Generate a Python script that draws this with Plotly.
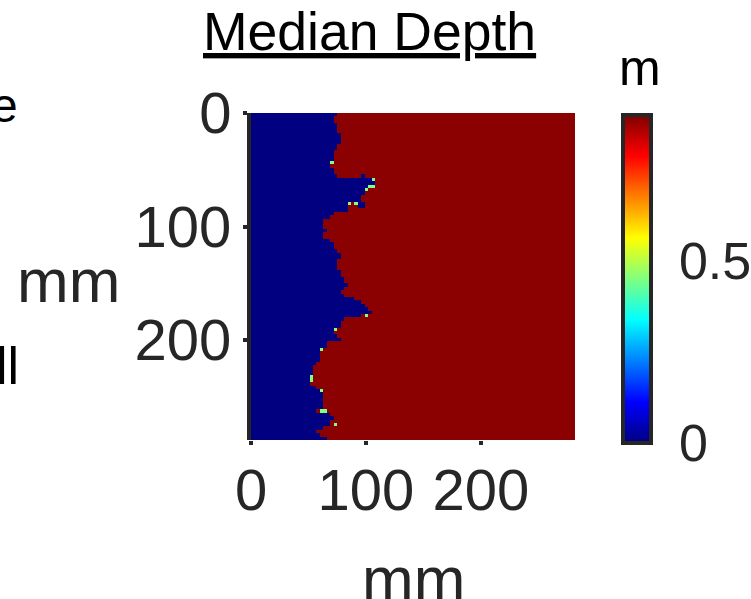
import numpy as np
import plotly.graph_objects as go

# ---------------- data ----------------
N_ROWS = 96
N_COLS = 94
CELL_MM = 3.0

DEPTH_DRY = 0.0     # m (blue)
DEPTH_WET = 0.89    # m (dark red)
DEPTH_MID = 0.45    # m (green specks)

# first "wet" column index for each row (top to bottom)
wet_front_col = [
    25, 24, 24, 25, 25, 25, 26, 26, 26, 25, 25, 24, 24, 24, 24, 23,
    24, 24, 25, 36, 36, 36, 34, 33, 32, 32, 28, 28, 28, 24, 23, 21,
    21, 21, 22, 21, 21, 23, 24, 24, 25, 26, 26, 25, 25, 25, 26, 26,
    27, 27, 28, 27, 26, 27, 30, 32, 33, 34, 35, 32, 27, 26, 26, 25,
    24, 25, 26, 22, 22, 21, 20, 20, 20, 19, 18, 18, 18, 18, 18, 17,
    19, 21, 21, 21, 21, 21, 21, 19, 23, 24, 23, 23, 21, 19, 20, 22,
]

# (row, col) cells with intermediate depth
mid_cells = [
    (14, 23), (19, 35), (21, 34), (21, 35), (22, 33), (26, 28), (26, 30),
    (59, 33), (63, 24), (69, 20), (77, 17), (78, 17), (81, 20), (87, 20),
    (87, 21), (91, 24),
]
# (row, col) dry cells inside the wet zone
dry_cells = [(18, 32), (26, 31), (26, 32), (27, 31), (27, 32)]

x_ticks = [0, 100, 200]
y_ticks = [0, 100, 200]
cb_ticks = [0, 0.5]
cb_tick_text = ["0", "0.5"]
C_MIN, C_MAX = 0.0, 0.9

# ---------------- build grid ----------------
z = np.full((N_ROWS, N_COLS), DEPTH_WET)
for r, b in enumerate(wet_front_col):
    z[r, :b] = DEPTH_DRY
for r, c in mid_cells:
    z[r, c] = DEPTH_MID
for r, c in dry_cells:
    z[r, c] = DEPTH_DRY

x_mm = np.arange(N_COLS) * CELL_MM + CELL_MM / 2
y_mm = np.arange(N_ROWS) * CELL_MM + CELL_MM / 2

jet = [
    [0.0, "rgb(0,0,128)"],
    [0.125, "rgb(0,0,255)"],
    [0.375, "rgb(0,255,255)"],
    [0.625, "rgb(255,255,0)"],
    [0.875, "rgb(255,0,0)"],
    [1.0, "rgb(128,0,0)"],
]

W, H = 751, 599
FONT = "Liberation Sans, Arial, sans-serif"
AX = "#262626"

fig = go.Figure(go.Heatmap(
    x=x_mm, y=y_mm, z=z, colorscale=jet, zmin=C_MIN, zmax=C_MAX,
    zsmooth=False, hoverinfo="skip",
    colorbar=dict(
        x=623 / W, xanchor="left", xpad=0, ypad=0,
        y=1 - 279 / H, yanchor="middle",
        lenmode="pixels", len=328, thickness=28,
        outlinewidth=4, outlinecolor=AX,
        tickvals=cb_ticks, ticktext=cb_tick_text,
        ticks="outside", ticklen=16, tickcolor="rgba(0,0,0,0)",
        tickfont=dict(family=FONT, size=52, color=AX),
    ),
))

fig.update_layout(
    width=W, height=H, autosize=False,
    margin=dict(l=0, r=0, t=0, b=0, autoexpand=False),
    paper_bgcolor="white", plot_bgcolor="white",
    showlegend=False,
    xaxis=dict(
        domain=[251 / W, 575 / W], range=[0, N_COLS * CELL_MM],
        tickvals=x_ticks, ticks="outside", ticklen=4, tickwidth=3.5,
        tickcolor=AX, showline=False, showgrid=False, zeroline=False,
        tickfont=dict(family=FONT, size=58, color=AX),
        ticklabelstandoff=-5, automargin=False,
    ),
    yaxis=dict(
        domain=[1 - 440 / H, 1 - 113 / H], range=[N_ROWS * CELL_MM, 0],
        tickvals=y_ticks, ticks="outside", ticklen=4, tickwidth=3.5,
        tickcolor=AX, showline=True, linewidth=4, linecolor=AX,
        showgrid=False, zeroline=False,
        tickfont=dict(family=FONT, size=58, color=AX),
        ticklabelstandoff=0, automargin=False,
    ),
)

def ann(text, x, y, size, color, xanchor="center", yanchor="middle"):
    fig.add_annotation(
        text=text, x=x / W, y=1 - y / H, xref="paper", yref="paper",
        xanchor=xanchor, yanchor=yanchor, showarrow=False,
        font=dict(family=FONT, size=size, color=color),
    )

ann("<u>Median Depth</u>", 369, 31, 53.5, "black")
ann("m", 640, 68, 50, "black")
ann("mm", 413, 578, 62, AX)
ann("mm", 68, 280, 62, AX)
ann("e", 20, 106, 48, "black", xanchor="right")
ann("ll", 21, 366, 52, "black", xanchor="right")

fig.write_html("out.html")
